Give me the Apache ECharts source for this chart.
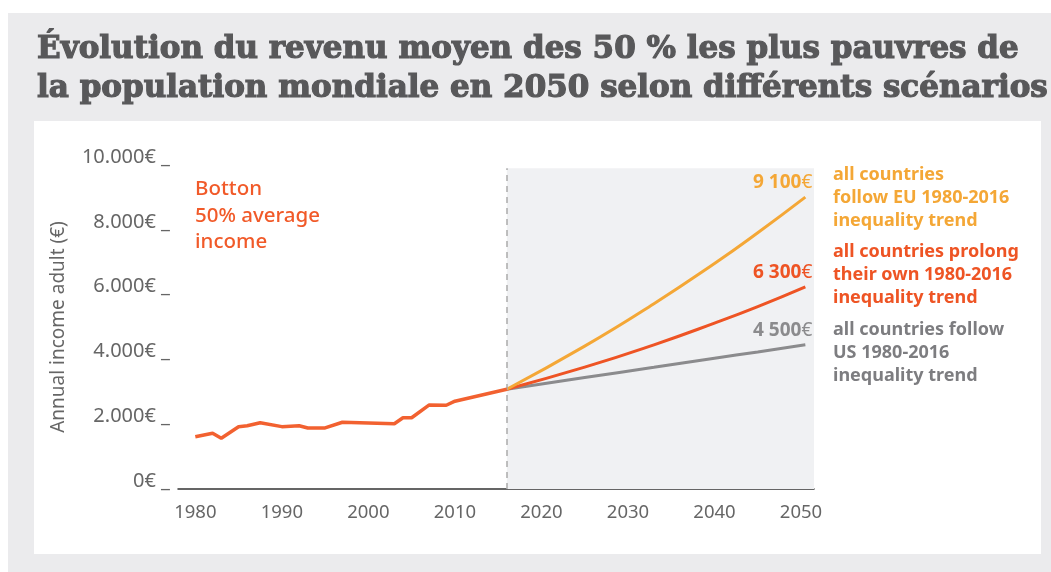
<!DOCTYPE html>
<html>
<head>
<meta charset="utf-8">
<script src="https://cdn.jsdelivr.net/npm/echarts@6/dist/echarts.min.js"></script>
<style>
  html, body { margin: 0; padding: 0; background: #fff; }
  #chart { width: 1051px; height: 572px; }
</style>
</head>
<body>
<div id="chart"></div>
<script>
// historical bottom 50% average income
var histYears = [1980, 1982, 1983, 1985, 1986, 1987.5, 1990, 1992, 1993, 1995, 1997, 2003, 2004, 2005, 2007, 2009, 2010, 2016];
var histValues = [1610, 1720, 1565, 1920, 1950, 2045, 1925, 1950, 1885, 1885, 2060, 2015, 2200, 2200, 2590, 2585, 2710, 3080];

// projections 2016 -> 2050
var projYears = [2016, 2025, 2033, 2040, 2045, 2050.5];
var euValues = [3080, 4410, 5720, 6960, 7910, 9010];
var ownValues = [3080, 3760, 4450, 5120, 5630, 6240];
var usValues = [3080, 3440, 3755, 4035, 4230, 4450];

var endLabels = ['9 100', '6 300', '4 500'];
var xTicks = [1980, 1990, 2000, 2010, 2020, 2030, 2040, 2050];
var yTicks = [0, 2000, 4000, 6000, 8000, 10000];

var colEU = '#f4a736', colOwn = '#ee5424', colUS = '#8b8b8d', colHist = '#f26130';
var FONT = 'Noto Sans';

function pairs(xs, ys) {
  return xs.map(function (x, i) { return [x, ys[i]]; });
}

function fmtEuro(v) {
  // 10000 -> 10.000€
  var s = String(v);
  if (v >= 1000) s = s.slice(0, s.length - 3) + '.' + s.slice(-3);
  return s + '€ _';
}

function endLabel(text, color) {
  return {
    show: true,
    formatter: '{a|' + text + '}{b|€}',
    align: 'right',
    verticalAlign: 'bottom',
    offset: [-1, -5],
    rich: {
      a: { fontFamily: FONT, fontWeight: 'bold', fontSize: 19, color: color },
      b: { fontFamily: FONT, fontWeight: 'normal', fontSize: 19, color: color }
    }
  };
}

var myChart = echarts.init(document.getElementById('chart'));
var option = {
  animation: false,
  backgroundColor: 'transparent',
  title: {
    text: 'Évolution du revenu moyen des 50 % les plus pauvres de\nla population mondiale en 2050 selon différents scénarios',
    left: 32,
    top: 25,
    textStyle: {
      fontFamily: 'DejaVu Serif',
      fontWeight: 'bold',
      fontSize: 31,
      lineHeight: 39,
      color: '#58585a',
      textBorderColor: '#58585a',
      textBorderWidth: 1.2
    }
  },
  graphic: [
    { type: 'rect', z: -10, shape: { x: 8, y: 13, width: 1043, height: 559 }, style: { fill: '#ebebed' } },
    { type: 'rect', z: -9, shape: { x: 34, y: 121, width: 1007, height: 433 }, style: { fill: '#ffffff' } },
    { type: 'text', x: 195, y: 176, style: { text: 'Botton\n50% average\nincome', fill: '#f15a29', font: '500 20.5px "Noto Sans"', lineHeight: 26.5, align: 'left', verticalAlign: 'top' } },
    { type: 'text', x: 529, y: 176, style: { text: 'Average\nincome\nassuming...', fill: '#5f5f61', font: '20.5px "Noto Sans"', lineHeight: 26.5, align: 'left', verticalAlign: 'top' } },
    { type: 'text', x: 833, y: 163, style: { text: 'all countries\nfollow EU 1980-2016\ninequality trend', fill: colEU, font: 'bold 18px "Noto Sans"', lineHeight: 23, align: 'left', verticalAlign: 'top' } },
    { type: 'text', x: 833, y: 240, style: { text: 'all countries prolong\ntheir own 1980-2016\ninequality trend', fill: colOwn, font: 'bold 18px "Noto Sans"', lineHeight: 23, align: 'left', verticalAlign: 'top' } },
    { type: 'text', x: 833, y: 318, style: { text: 'all countries follow\nUS 1980-2016\ninequality trend', fill: '#7d7d80', font: 'bold 18px "Noto Sans"', lineHeight: 23, align: 'left', verticalAlign: 'top' } }
  ],
  grid: { left: 178, top: 165, width: 636, height: 324 },
  xAxis: {
    type: 'value',
    min: 1978,
    max: 2051.5,
    splitLine: { show: false },
    axisTick: { show: false },
    axisLine: { lineStyle: { color: '#333', width: 1.5 } },
    axisLabel: {
      customValues: xTicks,
      formatter: function (v) { return String(v); },
      color: '#666',
      fontFamily: FONT,
      fontSize: 18.5,
      margin: 14
    }
  },
  yAxis: {
    type: 'value',
    min: 0,
    max: 10000,
    interval: 2000,
    name: 'Annual income adult (€)',
    nameLocation: 'middle',
    nameGap: 110,
    nameTextStyle: { color: '#666', fontFamily: FONT, fontSize: 19 },
    splitLine: { show: false },
    axisTick: { show: false },
    axisLine: { show: false },
    axisLabel: {
      customValues: yTicks,
      formatter: fmtEuro,
      color: '#666',
      fontFamily: FONT,
      fontSize: 20,
      margin: 8,
      verticalAlign: 'bottom',
      lineHeight: 16
    }
  },
  series: [
    {
      name: 'Bottom 50%',
      type: 'line',
      data: pairs(histYears, histValues),
      symbol: 'none',
      z: 5,
      lineStyle: { color: colHist, width: 3.5 },
      markArea: {
        silent: true,
        itemStyle: { color: '#f0f1f3' },
        data: [[{ coord: [2016, 0] }, { coord: [2051.5, 9900] }]]
      },
      markLine: {
        silent: true,
        symbol: 'none',
        label: { show: false },
        lineStyle: { color: '#aaaaaa', type: [6, 5], width: 1.5 },
        data: [[{ coord: [2016, 0] }, { coord: [2016, 9900] }]]
      }
    },
    {
      name: 'US trend',
      type: 'line',
      data: pairs(projYears, usValues),
      symbol: 'none',
      smooth: true,
      z: 3,
      lineStyle: { color: colUS, width: 3 },
      endLabel: endLabel(endLabels[2], colUS)
    },
    {
      name: 'own trend',
      type: 'line',
      data: pairs(projYears, ownValues),
      symbol: 'none',
      smooth: true,
      z: 4,
      lineStyle: { color: colOwn, width: 3 },
      endLabel: endLabel(endLabels[1], colOwn)
    },
    {
      name: 'EU trend',
      type: 'line',
      data: pairs(projYears, euValues),
      symbol: 'none',
      smooth: true,
      z: 4,
      lineStyle: { color: colEU, width: 3 },
      endLabel: endLabel(endLabels[0], colEU)
    }
  ]
};
myChart.setOption(option);
</script>
</body>
</html>
